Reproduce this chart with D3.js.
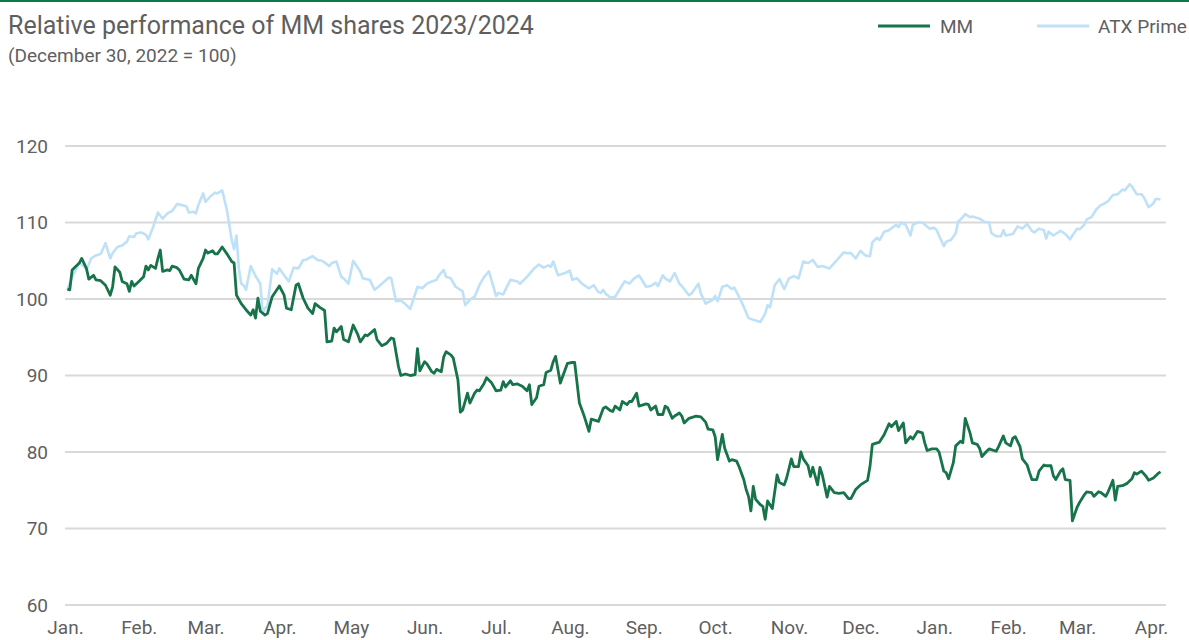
<!DOCTYPE html>
<html>
<head>
<meta charset="utf-8">
<script src="https://cdn.jsdelivr.net/npm/d3@7"></script>
<style>
  html, body { margin: 0; padding: 0; background: #fff; }
  svg { display: block; }
</style>
</head>
<body>
<svg id="chart" width="1189" height="640"></svg>
<script>
// ---- DATA ----
const title = "Relative performance of MM shares 2023/2024";
const subtitle = "(December 30, 2022 = 100)";
const seriesNames = ["MM", "ATX Prime"];
const monthLabels = ["Jan.","Feb.","Mar.","Apr.","May","Jun.","Jul.","Aug.","Sep.","Oct.","Nov.","Dec.","Jan.","Feb.","Mar.","Apr."];
const yTicks = [60, 70, 80, 90, 100, 110, 120];

// days since Jan 1, 2023
const mmDays = [1,2,3,6,7,9,10,12,13,15,17,19,20,21,23,24,26,27,28,29,31,33,34,35,36,38,39,40,41,43,44,45,47,48,50,52,53,55,56,58,59,60,62,63,64,66,68,70,71,72,74,76,78,79,80,81,82,84,85,87,90,92,93,95,97,98,100,102,104,105,107,109,110,112,113,114,116,117,119,121,123,124,126,127,130,131,133,135,137,138,140,141,143,145,147,148,149,151,152,154,155,156,158,159,160,162,163,165,166,167,169,170,172,173,174,176,177,179,181,183,184,185,187,188,190,192,194,195,196,198,199,201,202,204,205,206,208,209,211,213,214,216,218,220,221,224,226,227,229,230,231,233,234,236,237,238,240,241,244,245,246,248,249,251,252,253,255,256,258,259,260,262,265,267,269,270,272,273,274,276,277,279,280,282,283,285,286,287,288,289,290,292,293,294,295,297,299,300,302,303,305,306,308,309,310,312,313,314,316,317,318,320,321,323,325,327,329,330,332,334,337,338,339,341,342,344,346,347,349,350,352,353,355,356,358,360,361,362,364,366,367,369,370,371,373,374,376,377,378,380,381,383,384,385,387,388,391,392,394,395,397,398,399,401,402,404,405,406,408,409,411,412,414,415,416,418,419,420,422,423,425,426,428,429,431,432,434,435,437,438,440,441,442,444,446,448,449,450,452,454,455,457,459,460];
const mmValues = [101.3,101.2,103.8,104.7,105.3,104,102.6,103.1,102.5,102.4,101.8,100.5,101.6,104.2,103.5,102.3,102,101,102.3,101.7,102.3,102.9,104.3,103.8,104.4,104,105.3,106.4,103.6,103.8,103.7,104.3,104.1,103.8,102.6,102.5,103.1,102,104,105.3,106.4,106,106.3,105.9,105.9,106.8,105.9,104.9,104.7,100.5,99.4,98.6,97.9,98.6,97.5,100.1,98.4,97.9,98.1,100.3,101.7,100.5,98.8,98.6,101.8,102,100.1,98.8,98.1,99.4,98.9,98.5,94.4,94.5,96.2,95.7,96.4,94.7,94.4,96.6,95.3,94.4,95.3,95.2,96,94.7,93.9,94.2,94.9,94.8,91.2,90,90.2,90,90.1,93.5,90.6,91.8,91.5,90.5,90.3,90.8,90.5,92.4,93.1,92.7,92.3,89.4,85.2,85.5,87.7,86.4,87.7,88.1,88,89,89.7,89.1,88,88.1,89.2,88.5,89.3,88.8,88.9,88.6,88,88.8,86.2,87.1,88.6,88.8,90.4,90.7,91.8,92.5,89,89.9,91.6,91.7,91.7,86.4,84.7,82.7,84.3,84,85.7,85.9,85.4,85.3,86,85.5,86.6,86.2,86.6,86.6,87.7,86,86.3,86.2,85.5,86,84.9,84.9,86,85.8,84.4,84.7,85.1,84.7,83.8,84.4,84.7,84.6,83.9,83,82.9,82,79,82.3,80.5,78.8,79,78.8,78.1,76.4,75.1,74.2,72.3,75.5,73.8,73.1,72.9,71.2,73.6,72.6,77,76,75.7,76.6,79.1,78.1,78.1,80,79.1,78.2,76.8,78,75.7,78,77,74.1,75.5,74.7,74.6,74.7,73.9,73.9,75.1,75.7,76.3,78.1,81,81.2,81.3,82.3,83.7,83.3,84,82.8,83.8,81.2,82,81.7,82.7,82.5,81.2,80.2,80.4,80.4,80,77.5,77.3,76.5,78.6,80.8,81.4,81.2,84.4,82.5,81.2,81,80.5,79.4,80.1,80.4,80.1,80.7,82.1,81.2,80.8,81.8,82,80.7,79.1,78.3,77.3,76.4,76.4,77.5,78.3,78.2,78.2,76.9,76.4,77.5,77.8,76.4,76.3,71,72.8,73.4,74.4,74.8,74.7,74.2,74.8,74.7,74.2,74.8,76.3,73.7,75.5,75.6,75.9,76.5,77.3,77.1,77.5,76.8,76.3,76.6,77.2,77.4];

const atxDays = [1,3,6,8,9,11,13,15,17,19,20,22,24,26,27,29,30,32,34,35,37,39,41,43,45,47,49,51,52,54,55,56,58,59,61,63,64,66,68,70,71,72,73,74,75,76,78,80,82,83,84,85,87,89,90,92,94,96,98,100,101,104,106,108,111,112,114,116,117,119,121,124,125,128,130,132,136,137,139,141,143,145,148,150,152,154,156,157,159,160,162,164,167,168,170,172,174,176,178,181,182,184,187,190,191,194,197,199,201,203,204,205,207,210,212,213,215,217,220,222,224,225,226,227,229,231,233,235,237,239,241,244,246,248,249,251,252,254,256,258,259,262,263,266,267,269,272,273,274,276,278,280,281,283,285,287,289,292,294,295,296,298,300,302,304,306,308,310,312,314,316,318,321,323,327,328,330,332,334,336,338,339,341,342,344,346,349,350,351,353,355,356,358,360,363,365,366,367,369,370,372,374,375,377,378,380,381,384,386,388,389,391,393,394,395,398,400,402,404,406,407,409,411,412,413,415,418,420,422,423,425,426,428,429,431,433,435,436,438,440,442,444,445,447,448,450,452,453,455,457,458,460];
const atxValues = [101.2,102.9,104.7,104.3,103.8,105.3,105.7,105.9,107.3,105.3,106,106.8,107,107.5,108.2,108.1,108.6,108.7,108.4,107.8,109.4,111.3,110.5,111.2,111.5,112.4,112.3,112.1,111.3,111.4,111.2,112.3,113.8,112.7,113.4,113.9,113.8,114.2,111.6,107.7,106.5,108.3,104,102,101.8,101.2,104.3,103,102,98.1,98.8,99.1,103.9,103.3,104,103.1,102.3,104.1,104,105.1,105.1,105.6,105.1,105,104.3,104.7,104.9,102.9,102.7,102,105,103.6,102.7,102.5,101.2,101.7,102.8,102.7,99.7,99.8,99.3,98.7,101.6,101.4,102,102.3,102.5,103.1,103.8,102.9,102.7,101.6,101,99.2,99.9,100.3,101.8,102.9,103.6,100.4,100.8,100.6,102.5,102.3,102,102.9,104,104.5,104.1,104.4,104.2,104.9,103.1,103.4,103.7,102.5,102.7,102,101.4,101.8,100.9,100.8,101.2,100.7,100.2,100.3,101.3,102.3,102,102.7,103.1,101.6,101.7,102.1,101.7,103.1,102.7,102.3,103.4,102,101.7,100.5,100.7,102,100.7,99.4,99.9,100.4,99.7,101.6,101.8,101.3,101.5,100.3,99,97.5,97.3,97,98.1,99.2,98.9,101.8,102.6,101.3,102.7,103,102.7,104.9,104.7,105.1,104.2,104.3,104,104.7,106.1,106,106,105.3,106.3,105.7,105.6,107.4,108,107.7,108.8,109,109.7,109.4,110,109.7,108.3,109.7,110,110,109.2,109.3,109,108.3,106.9,107.5,107.7,108.6,110.1,110.7,111.1,110.7,110.8,110.5,110.1,110,108.6,108.2,108.2,109,108.3,108.5,109.5,109.2,109.8,108.9,108.7,109.2,109,107.9,108.8,108.3,108.9,108.5,107.8,108.3,109.2,109.1,109.7,110.4,110.7,111.7,112.3,112.4,112.8,113.6,113.7,114.3,114.2,115,114.7,113.7,113.7,113.3,112,112.5,113.1,113];

// ---- CHART ----
const svg = d3.select("#chart");
const W = 1189, H = 640;
const start = new Date(2023, 0, 1);
const toDate = d => d3.timeDay.offset(start, d);

const x = d3.scaleTime().domain([new Date(2023, 0, 1), new Date(2024, 3, 1)]).range([65, 1151]);
const y = d3.scaleLinear().domain([60, 120]).range([605, 146]);
const gridX0 = 65, gridX1 = 1166;

const cMM = "#17734a", cATX = "#bfe1f8", cText = "#5f5f5f", cGrid = "#d9d9d9";
const font = "Roboto, 'Noto Sans', sans-serif";

// top border
svg.append("line").attr("x1", 0).attr("x2", W).attr("y1", 1).attr("y2", 1)
  .attr("stroke", "#0d7a4c").attr("stroke-width", 2);

// title
svg.append("text").attr("x", 8).attr("y", 34).text(title)
  .attr("font-family", font).attr("font-size", 25).attr("fill", cText);
svg.append("text").attr("x", 8).attr("y", 62).text(subtitle)
  .attr("font-family", font).attr("font-size", 19).attr("fill", cText);

// gridlines
svg.append("g").selectAll("line").data(yTicks).join("line")
  .attr("x1", gridX0).attr("x2", gridX1)
  .attr("y1", d => y(d)).attr("y2", d => y(d))
  .attr("stroke", cGrid).attr("stroke-width", 2);

// y axis
const yAxis = svg.append("g").attr("transform", "translate(48,0)")
  .call(d3.axisLeft(y).tickValues(yTicks).tickSize(0).tickPadding(0).tickFormat(d3.format("d")));
yAxis.select(".domain").remove();
yAxis.selectAll("text").attr("font-family", font).attr("font-size", 19).attr("fill", cText);

// x axis
const monthTicks = d3.timeMonth.range(new Date(2023, 0, 1), new Date(2024, 4, 1));
const xAxis = svg.append("g").attr("transform", "translate(0,620)")
  .call(d3.axisBottom(x).tickValues(monthTicks).tickSize(0).tickPadding(0)
    .tickFormat((d, i) => monthLabels[i]));
xAxis.select(".domain").remove();
xAxis.selectAll("text").attr("font-family", font).attr("font-size", 19).attr("fill", cText);

// lines
const atxData = atxDays.map((d, i) => ({ date: toDate(d), v: atxValues[i] }));
const mmData = mmDays.map((d, i) => ({ date: toDate(d), v: mmValues[i] }));
const line = d3.line().x(d => x(d.date)).y(d => y(d.v));

svg.append("path").datum(atxData).attr("d", line)
  .attr("fill", "none").attr("stroke", cATX).attr("stroke-width", 2.6).attr("stroke-linejoin", "round");
svg.append("path").datum(mmData).attr("d", line)
  .attr("fill", "none").attr("stroke", cMM).attr("stroke-width", 2.8).attr("stroke-linejoin", "round");

// legend
const legend = [
  { name: seriesNames[0], color: cMM, x1: 878, x2: 930, tx: 940 },
  { name: seriesNames[1], color: cATX, x1: 1037, x2: 1089, tx: 1098 }
];
const lg = svg.append("g");
legend.forEach(l => {
  lg.append("line").attr("x1", l.x1).attr("x2", l.x2).attr("y1", 26).attr("y2", 26)
    .attr("stroke", l.color).attr("stroke-width", 3);
  lg.append("text").attr("x", l.tx).attr("y", 33).text(l.name)
    .attr("font-family", font).attr("font-size", 19).attr("fill", cText);
});
</script>
</body>
</html>
